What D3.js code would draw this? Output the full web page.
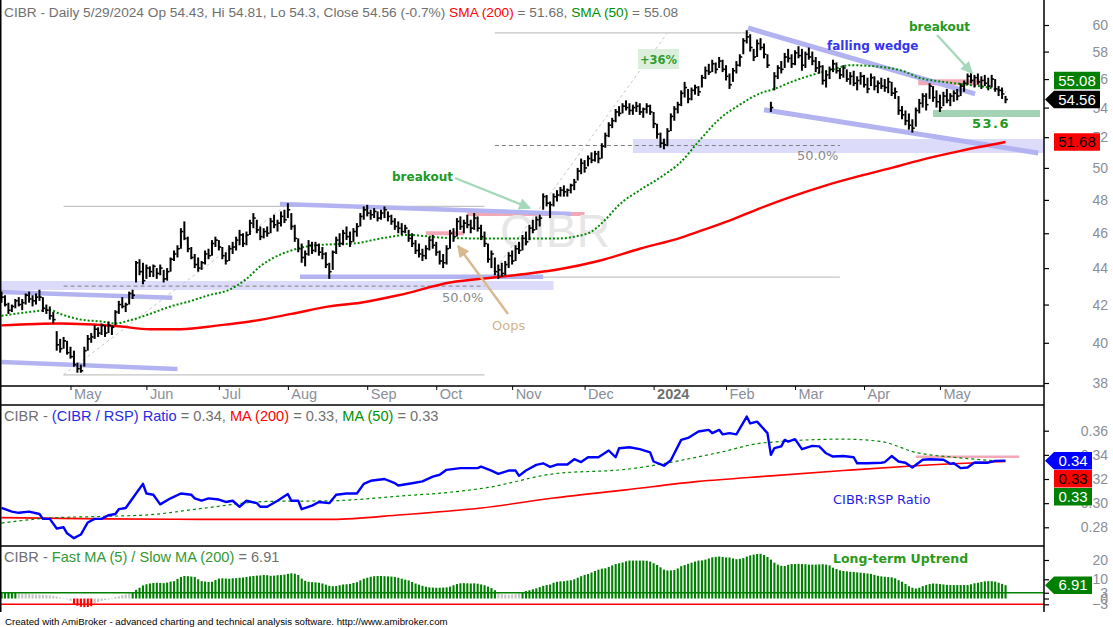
<!DOCTYPE html>
<html><head><meta charset="utf-8">
<script src="https://cdn.jsdelivr.net/npm/d3@7"></script>
<style>
html,body{margin:0;padding:0;background:#fff;}
svg{display:block;}
</style></head><body>
<svg id="c" width="1113" height="627"></svg>
<script>
// ---------- DATA ----------
const highs = [
42.7,42.5,42.1,42.0,42.3,42.4,42.3,42.6,42.7,42.5,
42.6,42.8,42.4,42.0,41.9,41.6,40.6,40.2,40.3,40.1,
39.8,39.6,39.0,38.9,39.8,40.4,40.5,40.9,40.8,41.0,
40.9,41.1,40.9,41.7,42.2,42.4,42.1,42.7,42.8,44.4,
44.5,44.3,44.2,44.1,44.2,44.0,44.2,43.9,44.0,44.6,
45.0,45.3,46.3,46.7,45.8,45.2,44.8,44.6,44.4,45.0,
45.1,45.6,45.8,45.6,45.2,44.9,45.3,45.5,45.8,46.2,
46.0,46.1,46.8,47.2,46.8,46.4,46.3,46.4,46.9,47.1,
46.8,47.3,47.4,47.8,47.2,46.5,45.7,45.4,45.0,45.6,
45.5,45.5,45.4,45.2,44.9,44.3,45.0,45.8,46.0,46.2,
46.4,46.1,46.3,46.6,47.2,47.6,47.7,47.4,47.5,47.3,
47.4,47.6,47.3,47.1,46.9,46.7,46.6,46.5,46.2,46.0,
45.6,45.4,45.1,45.3,45.8,45.9,45.5,45.0,44.8,45.3,
46.2,46.3,46.9,47.0,46.8,47.1,46.8,47.2,47.0,46.5,
46.1,45.4,45.0,44.6,44.2,44.3,44.4,44.9,45.0,45.3,
45.5,45.9,46.1,46.5,46.8,47.0,47.1,48.4,48.3,47.9,
48.4,48.6,48.8,48.9,48.7,49.0,49.3,50.0,50.6,50.5,
50.8,51.0,51.1,51.1,51.6,52.3,53.0,53.3,53.9,54.1,
54.3,54.5,54.3,54.2,54.4,54.3,54.0,54.3,54.2,53.7,
52.9,52.3,51.9,52.6,53.6,54.1,54.4,55.2,55.8,55.3,
55.4,55.6,55.5,56.3,56.9,57.1,57.4,57.2,57.6,57.4,
57.0,56.4,56.8,57.3,57.8,59.0,59.6,59.3,58.2,58.9,
59.0,58.6,57.8,54.4,56.5,57.0,57.3,57.9,58.2,57.8,
58.1,58.4,58.2,58.0,58.3,58.0,57.6,57.3,57.0,56.6,
56.9,57.4,57.2,56.8,57.0,56.7,56.5,56.6,56.2,56.5,
56.3,56.1,56.4,56.2,55.9,56.1,56.0,56.1,55.8,55.4,
54.8,54.1,53.8,53.6,53.2,54.0,54.6,55.0,55.0,55.7,
55.5,55.2,54.9,55.1,55.3,55.0,55.2,55.3,55.7,55.9,
56.4,56.5,56.3,56.4,56.2,56.3,56.1,56.3,56.0,55.5,
55.4,54.81];
const lows = [
42.1,41.9,41.5,41.6,41.8,41.9,41.7,42.0,42.1,41.9,
42.0,42.2,41.6,41.5,41.2,41.0,39.6,39.5,39.7,39.4,
39.2,38.8,38.5,38.5,38.8,39.6,40.0,40.2,40.3,40.4,
40.3,40.5,40.4,40.9,41.5,41.8,41.6,42.0,42.3,43.2,
43.6,43.1,43.4,43.5,43.5,43.4,43.6,43.2,43.3,43.8,
44.4,44.6,45.1,45.6,44.9,44.5,44.0,43.8,43.9,44.2,
44.5,44.7,45.2,45.0,44.5,44.2,44.4,44.8,45.0,45.3,
45.2,45.3,45.9,46.3,46.0,45.6,45.7,45.8,46.0,46.3,
46.1,46.4,46.6,46.9,46.2,45.5,44.9,44.3,44.1,44.7,
44.8,44.9,44.7,44.5,44.0,43.4,43.9,44.8,45.2,45.3,
45.6,45.2,45.5,45.8,46.4,46.8,47.0,46.8,46.9,46.7,
46.8,46.9,46.7,46.5,46.2,46.0,45.9,46.0,45.5,45.2,
44.8,44.6,44.4,44.5,45.0,45.1,44.7,44.2,44.0,44.2,
45.1,45.5,45.8,46.2,46.0,46.3,46.0,46.2,46.1,45.6,
45.2,44.3,44.0,43.6,43.4,43.5,43.6,44.0,44.2,44.4,
44.8,45.0,45.3,45.6,46.0,46.2,46.4,47.4,47.6,46.9,
47.6,47.9,48.2,48.2,48.2,48.4,48.6,49.2,49.6,49.7,
50.1,50.3,50.4,50.3,50.6,51.3,52.0,52.6,53.0,53.4,
53.6,53.8,53.5,53.5,53.7,53.5,53.3,53.6,53.5,52.6,
51.9,51.3,51.2,51.4,52.4,53.1,53.6,54.1,54.7,54.3,
54.5,54.9,54.8,55.4,56.0,56.3,56.5,56.4,56.8,56.5,
55.9,55.3,55.8,56.4,56.9,57.8,58.6,58.0,57.3,57.6,
58.1,57.5,56.8,53.7,55.2,56.0,56.4,56.8,57.2,56.8,
57.0,57.5,56.6,56.8,57.4,57.0,56.5,56.4,55.6,55.4,
56.0,56.5,56.4,56.0,56.1,55.8,55.6,55.5,55.2,55.6,
55.4,55.0,55.5,55.2,55.0,55.3,55.1,55.0,54.8,54.6,
53.5,53.2,52.8,52.5,52.3,52.7,53.6,54.0,53.8,54.6,
54.4,54.0,53.7,54.1,54.3,54.1,54.4,54.5,54.8,55.1,
55.6,55.7,55.4,55.6,55.3,55.5,55.2,55.4,55.1,54.8,
54.6,54.3];
const closes = [
42.4,42.0,41.7,41.9,42.2,42.0,42.1,42.5,42.3,42.2,
42.4,42.4,41.8,41.7,41.4,41.2,39.9,39.7,40.1,39.5,
39.3,38.9,38.7,38.6,39.6,40.2,40.3,40.7,40.5,40.9,
40.5,40.9,40.8,41.6,42.0,41.9,42.0,42.6,42.5,44.3,
43.8,43.3,44.0,43.8,44.1,43.7,44.0,43.4,43.8,44.5,
44.8,45.1,46.1,45.7,45.1,44.6,44.2,44.0,44.3,44.8,
44.7,45.4,45.6,45.2,44.7,44.4,45.1,45.2,45.6,45.9,
45.4,45.9,46.6,46.9,46.2,45.8,46.1,46.0,46.7,46.5,
46.6,47.0,46.8,47.4,46.4,45.7,45.1,44.6,44.8,45.3,
45.0,45.3,44.9,44.8,44.2,43.8,44.9,45.6,45.4,46.0,
45.8,45.5,46.1,46.4,47.0,47.4,47.2,47.1,47.3,46.9,
47.2,47.4,47.0,46.7,46.4,46.3,46.1,46.3,45.7,45.4,
45.0,44.8,44.7,45.1,45.6,45.3,44.9,44.4,44.3,45.1,
46.0,45.8,46.7,46.4,46.6,46.5,46.3,46.9,46.3,45.8,
45.4,44.5,44.8,43.8,43.9,43.7,44.2,44.7,44.4,45.1,
45.0,45.7,45.5,46.3,46.2,46.8,46.9,48.2,47.8,47.7,
48.2,48.3,48.6,48.5,48.6,48.9,49.1,49.8,50.3,50.0,
50.6,50.5,50.9,50.6,51.4,52.1,52.8,53.1,53.7,53.6,
54.1,54.0,53.8,54.0,54.1,53.7,53.9,54.1,53.7,52.9,
52.2,51.6,51.5,52.4,53.4,53.9,54.2,55.0,55.4,54.6,
55.2,55.4,55.1,56.1,56.6,56.5,57.1,56.7,57.3,56.7,
56.2,55.6,56.6,57.0,57.6,58.8,59.1,58.3,57.6,58.6,
58.3,57.8,57.0,54.0,56.2,56.8,56.7,57.6,57.5,57.1,
57.9,57.7,57.0,57.8,57.6,57.3,56.8,56.9,55.9,56.3,
56.7,57.1,56.6,56.3,56.8,56.0,56.2,55.7,55.9,56.2,
55.6,55.3,56.1,55.5,55.7,55.5,55.4,55.8,55.0,55.1,
53.8,53.5,53.1,52.8,52.6,53.8,54.3,54.8,54.2,55.5,
54.7,54.4,54.0,54.8,54.5,54.8,55.0,54.8,55.5,55.7,
56.2,55.9,56.1,55.8,55.9,55.7,55.5,56.0,55.3,55.2,
54.95,54.56];

// moving averages: [bar index, value]
const sma50 = [[0,41.4],[8,41.6],[14,41.7],[17,41.5],[23,41.2],[29,41.1],[33,41.0],[37,41.15],[43,41.5],[49,41.9],[55,42.2],[60,42.5],[66,42.8],[71,43.4],[75,44.1],[79,44.6],[84,45.0],[89,45.25],[95,45.35],[102,45.4],[110,45.7],[118,45.9],[127,45.75],[136,45.7],[145,45.7],[153,45.7],[162,45.7],[166,45.8],[171,46.1],[175,46.8],[179,47.7],[185,48.6],[191,49.4],[197,50.4],[202,51.7],[208,53.2],[214,54.2],[220,55.0],[224,55.3],[229,55.8],[235,56.3],[241,56.7],[246,57.0],[254,56.9],[261,56.6],[266,56.1],[273,55.8],[280,55.6],[286,55.4],[291,55.08]];
const sma200 = [[0,40.9],[17,41.0],[34,40.85],[43,40.7],[52,40.7],[63,40.9],[72,41.1],[84,41.5],[95,41.9],[104,42.1],[115,42.5],[130,43.2],[144,43.5],[153,43.7],[162,43.95],[173,44.4],[185,45.1],[197,45.75],[202,46.1],[211,46.75],[220,47.5],[229,48.2],[239,48.9],[249,49.5],[258,50.0],[268,50.6],[278,51.1],[291,51.68]];

// CIBR / RSP ratio: [bar index, value]
const ratio = [[0,0.296],[3,0.293],[5,0.292],[8,0.293],[11,0.291],[12,0.287],[14,0.287],[16,0.279],[18,0.280],[19,0.275],[21,0.271],[23,0.274],[25,0.284],[27,0.287],[29,0.287],[31,0.290],[33,0.291],[34,0.295],[36,0.296],[39,0.308],[41,0.316],[42,0.308],[44,0.307],[46,0.299],[49,0.304],[52,0.308],[55,0.307],[56,0.304],[58,0.302],[60,0.304],[63,0.303],[65,0.301],[67,0.302],[69,0.297],[71,0.302],[74,0.300],[75,0.297],[77,0.297],[80,0.302],[83,0.3075],[84,0.302],[86,0.302],[87,0.295],[90,0.298],[92,0.301],[95,0.300],[97,0.307],[100,0.308],[103,0.308],[105,0.316],[107,0.3185],[111,0.320],[114,0.3165],[115,0.3146],[119,0.3165],[122,0.318],[125,0.322],[127,0.3235],[129,0.3276],[133,0.329],[138,0.329],[139,0.3303],[142,0.327],[144,0.3243],[147,0.327],[149,0.327],[150,0.3226],[152,0.327],[155,0.3317],[157,0.333],[159,0.330],[161,0.332],[164,0.332],[166,0.3364],[168,0.334],[170,0.338],[173,0.338],[176,0.3436],[178,0.338],[179,0.3455],[182,0.3463],[185,0.3447],[188,0.342],[189,0.3345],[192,0.331],[194,0.3355],[197,0.3524],[199,0.354],[202,0.3593],[205,0.3607],[206,0.358],[208,0.3607],[209,0.357],[211,0.358],[213,0.357],[216,0.3717],[217,0.366],[219,0.3675],[222,0.358],[223,0.340],[224,0.3455],[226,0.347],[227,0.3524],[228,0.351],[230,0.353],[232,0.3447],[235,0.3474],[237,0.347],[239,0.3413],[241,0.3386],[244,0.339],[247,0.338],[248,0.333],[251,0.333],[255,0.3335],[256,0.334],[258,0.339],[260,0.3345],[262,0.3335],[264,0.3295],[267,0.336],[269,0.3364],[273,0.336],[275,0.3326],[276,0.333],[278,0.329],[280,0.3295],[282,0.3337],[286,0.3335],[288,0.335],[291,0.3352]];
const ratioMA50 = [[0,0.2835],[14,0.2877],[29,0.289],[43,0.2904],[58,0.2956],[77,0.3014],[96,0.302],[116,0.306],[130,0.309],[141,0.313],[160,0.3243],[181,0.328],[207,0.3413],[221,0.350],[244,0.353],[255,0.351],[265,0.342],[276,0.338],[291,0.3345]];
const ratioMA200 = [[0,0.288],[29,0.287],[58,0.2866],[96,0.2866],[116,0.2904],[139,0.296],[160,0.3042],[181,0.311],[202,0.318],[223,0.3226],[244,0.327],[265,0.331],[291,0.3345]];

// Fast MA(5)/Slow MA(200) histogram, one value per bar
const trend = [
3.2,3.3,3.1,3.1,3.0,
2.7,2.5,2.5,2.3,2.2,2.1,2.0,1.9,1.8,1.7,
1.4,1.0,0.6,0.2,-0.4,-1.2,
-3.3,-3.8,-4.3,-4.5,-4.4,-4.0,
-2.6,-1.8,-1.2,-0.8,-0.5,
0.3,0.8,1.2,1.8,2.2,2.6,
3.4,4.5,5.6,6.8,7.4,7.8,8.1,8.2,8.1,8.0,8.3,8.8,9.0,
10.2,11.2,11.7,11.6,11.4,11.2,10.0,9.0,8.8,8.6,
8.7,9.6,10.4,10.5,10.4,10.3,10.5,10.6,10.8,10.9,
11.2,11.5,11.7,11.9,12.0,12.2,12.1,11.8,11.9,12.1,
12.2,12.4,12.8,13.1,12.9,12.2,10.3,9.2,8.7,8.5,
8.4,8.2,7.8,7.2,6.6,6.4,6.5,6.9,7.3,7.4,
7.6,8.1,8.5,9.4,10.3,10.8,11.3,11.6,11.7,11.7,
11.6,11.5,11.4,11.2,10.8,10.3,9.8,9.4,8.6,7.8,
7.2,6.6,6.1,5.8,5.7,5.6,5.6,5.7,5.8,6.2,
6.9,7.5,7.9,8.0,7.9,7.8,7.9,7.7,7.3,6.9,
6.2,5.4,4.3,2.8,2.3,2.1,2.0,2.1,2.3,2.6,
3.3,3.9,4.3,4.8,5.3,5.9,6.6,7.0,7.3,8.2,
8.7,8.9,9.0,9.3,9.5,10.0,10.8,11.6,12.3,12.7,
13.5,14.3,15.0,15.5,15.7,16.4,17.2,17.9,18.3,18.7,
19.3,19.7,19.7,19.7,19.7,19.7,19.6,19.2,18.3,17.4,
16.2,15.0,14.6,14.6,14.8,15.6,16.8,17.4,18.0,18.6,
19.2,19.7,19.8,20.2,20.8,21.4,21.6,21.8,21.6,21.3,
21.3,20.8,20.4,20.6,21.0,21.8,22.4,22.8,23.1,23.2,
22.6,21.6,20.2,18.6,17.6,17.0,16.9,17.5,17.9,17.9,
18.0,17.9,17.8,17.6,17.6,17.6,17.7,17.8,17.6,17.2,
16.0,15.3,14.6,14.3,14.1,13.9,13.8,13.6,13.4,13.2,
13.0,12.8,12.3,11.8,11.5,11.3,11.1,11.0,10.5,9.5,
8.7,7.6,6.4,5.6,5.2,5.6,6.4,7.0,7.5,7.8,
7.7,7.5,7.3,7.1,7.0,7.0,7.0,7.0,7.0,7.0,
7.4,7.9,8.2,8.6,8.9,9.0,9.0,8.8,8.2,7.6,6.91];

const monthIdx = [20,42,63,83,106,126,148,169,189,210,230,250,272];
const monthNames = ["May","Jun","Jul","Aug","Sep","Oct","Nov","Dec","2024","Feb","Mar","Apr","May"];
const priceTicks = [38,40,42,44,46,48,50,52,54,56,58,60];
const ratioTicks = [0.28,0.30,0.32,0.34,0.36];
const trendTicks = [-3,0,3,10,20];

// ---------- SCALES ----------
const AX = 1044;
const svg = d3.select("#c");
const FONT = "'Liberation Sans', Arial, sans-serif";
const DJ = "'DejaVu Sans', Verdana, sans-serif";
const N = closes.length;
const x = d3.scaleLinear().domain([0, N - 1]).range([1.5, 1005.5]);
const yP = d3.scaleLog().domain([38, 60]).range([383, 25]);
const yR = d3.scaleLinear().domain([0.28, 0.36]).range([527.3, 430.7]);
const yH = d3.scaleLinear().domain([-3, 20]).range([604.3, 560]);

svg.append("rect").attr("width",1113).attr("height",627).attr("fill","#fff");
const defs = svg.append("defs");
defs.append("clipPath").attr("id","cpMain").append("rect").attr("x",0).attr("y",0).attr("width",AX).attr("height",386);
defs.append("clipPath").attr("id","cpMid").append("rect").attr("x",0).attr("y",405).attr("width",AX).attr("height",141);
defs.append("clipPath").attr("id","cpBot").append("rect").attr("x",0).attr("y",546).attr("width",AX).attr("height",66);
function arrowMarker(id, color){
  defs.append("marker").attr("id",id).attr("viewBox","0 0 10 10").attr("refX",9).attr("refY",5)
    .attr("markerWidth",6).attr("markerHeight",5).attr("markerUnits","strokeWidth").attr("orient","auto")
    .append("path").attr("d","M0,0 L10,5 L0,10 z").attr("fill",color);
}
arrowMarker("arG","#a6d8ba");
arrowMarker("arT","#d8b88c");

// ---------- MAIN PANEL ----------
const main = svg.append("g").attr("clip-path","url(#cpMain)");
function seg(g, b1, v1, b2, v2, color, w, dash){
  const l = g.append("line").attr("x1",x(b1)).attr("y1",yP(v1)).attr("x2",x(b2)).attr("y2",yP(v2))
    .attr("stroke",color).attr("stroke-width",w);
  if (dash) l.attr("stroke-dasharray",dash);
  return l;
}
function band(g, b1, b2, vTop, vBot, color){
  g.append("rect").attr("x",x(b1)).attr("width",x(b2)-x(b1)).attr("y",yP(vTop)).attr("height",yP(vBot)-yP(vTop)).attr("fill",color);
}
const LAV = "#b3b3f2", LAVL = "#dcdcfa", PINK = "#f3a8b6", GRY = "#c4c4c4";
band(main, 0, 160, 43.28, 42.79, LAVL);
band(main, 183, 302, 51.88, 50.96, LAVL);
seg(main, 18, 47.6, 140, 47.6, GRY, 1.2);
seg(main, 18, 38.4, 140, 38.4, GRY, 1.2);
seg(main, 18, 43.0, 140, 43.0, "#808080", 1, "4,3");
seg(main, 18, 38.4, 82, 47.6, "#c8c8c8", 1, "3,3");
seg(main, 143, 59.4, 217, 59.4, GRY, 1.2);
seg(main, 143, 43.5, 243, 43.5, GRY, 1.2);
seg(main, 143, 51.45, 243, 51.45, "#808080", 1, "4,3");
seg(main, 141.5, 43.5, 193, 59.4, "#c8c8c8", 1, "3,3");
seg(main, 123, 46.0, 134, 46.0, PINK, 4);
seg(main, 135, 47.15, 169, 47.15, PINK, 4);
seg(main, 265.7, 55.77, 284.2, 55.77, PINK, 6);
seg(main, 0, 42.68, 49.5, 42.36, LAV, 4.5);
seg(main, 0, 39.03, 51, 38.69, LAV, 4.5);
seg(main, 86.5, 43.52, 157, 43.52, LAV, 4.5);
seg(main, 80.7, 47.75, 165, 47.15, LAV, 4.5);
seg(main, 216.4, 59.77, 282.2, 54.95, LAV, 5);
seg(main, 221, 53.85, 300.5, 50.96, LAV, 5);
seg(main, 270, 53.6, 301, 53.6, "#a3d2b4", 7);

main.append("text").attr("x",555).attr("y",247).attr("text-anchor","middle")
  .attr("font-family",FONT).attr("font-size",46).attr("fill","#e6e6e6").text("CIBR");

const lineP = d3.line().x(d => x(d[0])).y(d => yP(d[1])).curve(d3.curveMonotoneX);
main.append("path").attr("d",lineP(sma200)).attr("fill","none").attr("stroke","#ff0000").attr("stroke-width",2.4);
main.append("path").attr("d",lineP(sma50)).attr("fill","none").attr("stroke","#008a00").attr("stroke-width",2).attr("stroke-dasharray","2,2");

const bars = main.append("g");
bars.selectAll("line.hl").data(closes).join("line").attr("class","hl")
  .attr("x1",(d,i)=>x(i)).attr("x2",(d,i)=>x(i))
  .attr("y1",(d,i)=>yP(highs[i])).attr("y2",(d,i)=>yP(lows[i]))
  .attr("stroke","#000").attr("stroke-width",2);
bars.selectAll("line.cl").data(closes).join("line").attr("class","cl")
  .attr("x1",(d,i)=>x(i)).attr("x2",(d,i)=>x(i)+2.4)
  .attr("y1",d=>yP(d)).attr("y2",d=>yP(d))
  .attr("stroke","#000").attr("stroke-width",1.6);

function txt(g, xx, yy, s, opts){
  const t = g.append("text").attr("x",xx).attr("y",yy).text(s)
    .attr("font-family",opts.ff||DJ).attr("font-size",opts.fs||12)
    .attr("font-weight",opts.fw||"normal").attr("fill",opts.c||"#000");
  if (opts.anchor) t.attr("text-anchor",opts.anchor);
  if (opts.ls) t.attr("letter-spacing",opts.ls);
  return t;
}
txt(main, 442, 302, "50.0%", {fs:13, c:"#8a8a8a"});
txt(main, 797, 160, "50.0%", {fs:13, c:"#8a8a8a"});
main.append("rect").attr("x",638).attr("y",49).attr("width",41).attr("height",20).attr("fill","#dcefdc");
txt(main, 658.5, 64, "+36%", {fs:11.5, fw:"bold", c:"#2e9e2e", anchor:"middle"});
txt(main, 392, 181, "breakout", {fs:12, fw:"bold", c:"#229922"});
txt(main, 909, 31, "breakout", {fs:12, fw:"bold", c:"#229922"});
txt(main, 827, 50, "falling wedge", {fs:12, fw:"bold", c:"#3535ee"});
txt(main, 492, 330, "Oops", {fs:13, c:"#d2b48c"});
txt(main, 972, 128, "53.6", {fs:13, fw:"bold", c:"#229922", ls:"1.5px"});
main.append("line").attr("x1",455).attr("y1",178).attr("x2",530).attr("y2",208)
  .attr("stroke","#a6d8ba").attr("stroke-width",2.4).attr("marker-end","url(#arG)");
main.append("line").attr("x1",937).attr("y1",35).attr("x2",972).attr("y2",73)
  .attr("stroke","#a6d8ba").attr("stroke-width",2.4).attr("marker-end","url(#arG)");
main.append("line").attr("x1",508).attr("y1",314).attr("x2",458).attr("y2",246)
  .attr("stroke","#d8b88c").attr("stroke-width",2.4).attr("marker-end","url(#arT)");

function header(yy, fs, parts){
  const t = svg.append("text").attr("x",4).attr("y",yy).attr("font-family",FONT).attr("font-size",fs);
  parts.forEach(p => t.append("tspan").attr("fill",p[1]).text(p[0]));
}
const G = "#707070";
header(17, 13.7, [["CIBR - Daily 5/29/2024 Op 54.43, Hi 54.81, Lo 54.3, Close 54.56 (-0.7%) ",G],["SMA (200)","#ff0000"],[" = 51.68, ",G],["SMA (50)","#009000"],[" = 55.08",G]]);

// ---------- MIDDLE PANEL ----------
const mid = svg.append("g").attr("clip-path","url(#cpMid)");
const lineR = d3.line().x(d => x(d[0])).y(d => yR(d[1]));
mid.append("line").attr("x1",x(265)).attr("x2",x(295)).attr("y1",yR(0.3385)).attr("y2",yR(0.3385)).attr("stroke",PINK).attr("stroke-width",2.5);
mid.append("path").attr("d",lineR.curve(d3.curveMonotoneX)(ratioMA200)).attr("fill","none").attr("stroke","#ff0000").attr("stroke-width",1.6);
mid.append("path").attr("d",lineR.curve(d3.curveMonotoneX)(ratioMA50)).attr("fill","none").attr("stroke","#008a00").attr("stroke-width",1.2).attr("stroke-dasharray","3,3");
mid.append("path").attr("d",lineR.curve(d3.curveLinear)(ratio)).attr("fill","none").attr("stroke","#0000ff").attr("stroke-width",2.4).attr("stroke-linejoin","round");
header(421, 14.6, [["CIBR - ",G],["(CIBR / RSP) Ratio","#2a2ae6"],[" = 0.34, ",G],["MA (200)","#ff0000"],[" = 0.33, ",G],["MA (50)","#009000"],[" = 0.33",G]]);
txt(svg, 833, 504, "CIBR:RSP Ratio", {fs:13, c:"#1e1ee8"});

// ---------- BOTTOM PANEL ----------
const bot = svg.append("g").attr("clip-path","url(#cpBot)");
bot.selectAll("rect.h").data(trend).join("rect").attr("class","h")
  .attr("x",(d,i)=>x(i)-1).attr("width",2.1)
  .attr("y",d=>yH(Math.max(d,0))).attr("height",d=>Math.abs(yH(d)-yH(0)))
  .attr("fill",d => d >= 3 ? "#008000" : (d <= -3 ? "#ff0000" : "#c4c4c4"));
bot.append("line").attr("x1",0).attr("x2",AX).attr("y1",yH(3)).attr("y2",yH(3)).attr("stroke","#008000").attr("stroke-width",1.4);
bot.append("line").attr("x1",0).attr("x2",AX).attr("y1",yH(-3)).attr("y2",yH(-3)).attr("stroke","#ff0000").attr("stroke-width",1.4);
header(562, 14.6, [["CIBR - ",G],["Fast MA (5) / Slow MA (200)","#339933"],[" = 6.91",G]]);
txt(svg, 833, 563, "Long-term Uptrend", {fs:12.5, fw:"bold", c:"#2a9a1a"});

// ---------- FRAME ----------
const fr = svg.append("g").attr("stroke","#000").attr("stroke-width",1.5);
fr.append("line").attr("x1",0.75).attr("x2",0.75).attr("y1",0).attr("y2",612);
fr.append("line").attr("x1",AX).attr("x2",AX).attr("y1",0).attr("y2",612);
[386,405,546].forEach(yy => fr.append("line").attr("x1",0).attr("x2",AX).attr("y1",yy).attr("y2",yy));

// ---------- AXES ----------
function rightAxis(scale, ticks, fmt, fs){
  const g = svg.append("g").attr("transform",`translate(${AX},0)`)
    .call(d3.axisRight(scale).tickValues(ticks).tickSize(5).tickFormat(fmt));
  g.attr("font-family",FONT).attr("font-size",fs);
  g.select(".domain").remove();
  g.selectAll(".tick line").attr("stroke","#000").attr("stroke-width",1.2);
  g.selectAll(".tick text").attr("x",64).attr("text-anchor","end").attr("fill","#8a8e98");
  return g;
}
rightAxis(yP, priceTicks, d3.format("d"), 14);
rightAxis(yR, ratioTicks, d3.format(".2f"), 14);
rightAxis(yH, trendTicks, d3.format("d"), 14);

const gx = svg.append("g").attr("transform","translate(0,386)")
  .call(d3.axisBottom(x).tickValues(monthIdx).tickSize(4).tickFormat((d,i)=>monthNames[i]));
gx.attr("font-family",FONT).attr("font-size",14.5);
gx.select(".domain").remove();
gx.selectAll(".tick line").attr("stroke","#000");
gx.selectAll(".tick text").attr("text-anchor","start").attr("x",3).attr("y",3)
  .attr("font-weight",(d,i)=> monthNames[i]==="2024" ? "bold" : "normal")
  .attr("fill",(d,i)=> monthNames[i]==="2024" ? "#707070" : "#8a8e98");

// ---------- VALUE BADGES ----------
function badge(cy, w, label, fill, tcol, arrow){
  const x0 = 1054, x1 = x0 + w, h = 17.5;
  const pts = arrow ? [[1045,cy],[x0,cy-h/2],[x1,cy-h/2],[x1,cy+h/2],[x0,cy+h/2]]
                    : [[x0,cy-h/2],[x1,cy-h/2],[x1,cy+h/2],[x0,cy+h/2]];
  svg.append("polygon").attr("points",pts.map(p=>p.join(",")).join(" ")).attr("fill",fill);
  svg.append("text").attr("x",(x0+x1)/2).attr("y",cy+5.2).attr("text-anchor","middle")
    .attr("font-family",FONT).attr("font-size",15).attr("fill",tcol).text(label);
}
const lastP = yP(closes[N-1]);
badge(lastP - 19, 46, d3.format(".2f")(sma50[sma50.length-1][1]), "#008000", "#fff", false);
badge(lastP, 46, d3.format(".2f")(closes[N-1]), "#000", "#fff", true);
badge(yP(sma200[sma200.length-1][1]), 46, d3.format(".2f")(sma200[sma200.length-1][1]), "#ff0000", "#000", false);
const lastR = yR(ratio[ratio.length-1][1]);
badge(lastR, 38, "0.34", "#0000ff", "#fff", true);
badge(lastR + 18, 38, "0.33", "#ff0000", "#000", false);
badge(lastR + 36, 38, "0.33", "#008000", "#fff", false);
badge(yH(trend[N-1]), 38, d3.format(".2f")(trend[N-1]), "#008000", "#fff", true);

svg.append("text").attr("x",5).attr("y",625).attr("font-family",FONT).attr("font-size",9.7).attr("fill","#000")
  .text("Created with AmiBroker - advanced charting and technical analysis software. http://www.amibroker.com");
</script>
</body></html>
